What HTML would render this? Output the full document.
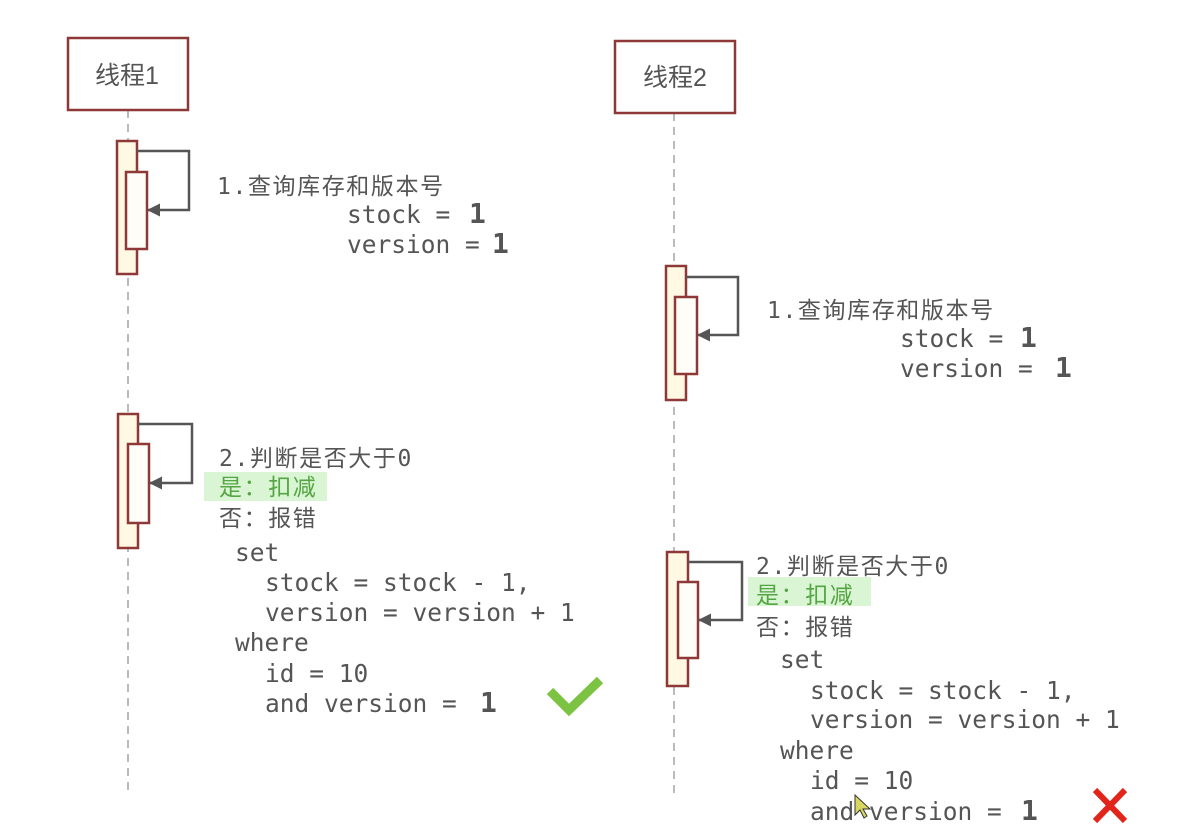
<!DOCTYPE html>
<html><head><meta charset="utf-8"><style>
html,body{margin:0;padding:0;background:#fff;}
svg{display:block;}
.t{font-family:"DejaVu Sans Mono","Liberation Mono","Noto Sans CJK SC",monospace;font-size:24.5px;fill:#555;}
.c{font-family:"DejaVu Sans Mono","Liberation Mono","Noto Sans CJK SC",monospace;font-size:23px;letter-spacing:1.6px;fill:#555;}
.g{fill:#55a544;}
.b{font-family:"DejaVu Sans Mono","Liberation Mono",monospace;font-size:28px;font-weight:bold;fill:#555;}
.h{font-family:"Liberation Sans","Noto Sans CJK SC",sans-serif;font-size:25px;fill:#555;}
</style></head><body>
<svg width="1179" height="828" viewBox="0 0 1179 828" xmlns="http://www.w3.org/2000/svg">
<defs>
<marker id="ah" markerWidth="13" markerHeight="13" refX="12" refY="6.5" orient="auto" markerUnits="userSpaceOnUse">
<path d="M0,0 L13,6.5 L0,13 z" fill="#555"/>
</marker>
</defs>

<!-- lifelines -->
<line x1="128" y1="110" x2="128" y2="795" stroke="#bbb" stroke-width="2" stroke-dasharray="8 6"/>
<line x1="674" y1="113" x2="674" y2="795" stroke="#bbb" stroke-width="2" stroke-dasharray="8 6"/>

<!-- headers -->
<rect x="68" y="38" width="120" height="72" fill="#fff" stroke="#8e3838" stroke-width="2.5"/>
<text class="h" x="127" y="84" text-anchor="middle">线程1</text>
<rect x="615" y="41" width="120" height="72" fill="#fff" stroke="#8e3838" stroke-width="2.5"/>
<text class="h" x="675" y="86" text-anchor="middle">线程2</text>

<!-- left activation 1 -->
<rect x="117" y="141" width="20" height="133" fill="#fff8e2" stroke="#8e3838" stroke-width="2.5"/>
<rect x="126" y="172" width="21" height="77" fill="#fffdf7" stroke="#8e3838" stroke-width="2.5"/>
<polyline points="137,151 189,151 189,210 148,210" fill="none" stroke="#555" stroke-width="2.5" marker-end="url(#ah)"/>

<!-- left activation 2 -->
<rect x="118" y="414" width="20" height="134" fill="#fff8e2" stroke="#8e3838" stroke-width="2.5"/>
<rect x="128" y="444" width="21" height="79" fill="#fffdf7" stroke="#8e3838" stroke-width="2.5"/>
<polyline points="138,424 192,424 192,483 150,483" fill="none" stroke="#555" stroke-width="2.5" marker-end="url(#ah)"/>

<!-- right activation 1 -->
<rect x="666" y="266" width="20" height="134" fill="#fff8e2" stroke="#8e3838" stroke-width="2.5"/>
<rect x="675" y="297" width="22" height="77" fill="#fffdf7" stroke="#8e3838" stroke-width="2.5"/>
<polyline points="686,277 738,277 738,335 698,335" fill="none" stroke="#555" stroke-width="2.5" marker-end="url(#ah)"/>

<!-- right activation 2 -->
<rect x="667" y="552" width="21" height="134" fill="#fff8e2" stroke="#8e3838" stroke-width="2.5"/>
<rect x="678" y="582" width="20" height="76" fill="#fffdf7" stroke="#8e3838" stroke-width="2.5"/>
<polyline points="688,562 742,562 742,620 699,620" fill="none" stroke="#555" stroke-width="2.5" marker-end="url(#ah)"/>

<!-- highlights -->
<rect x="204" y="472" width="123" height="29" fill="#d9f5d3"/>
<rect x="748" y="577" width="123" height="29" fill="#d9f5d3"/>

<!-- left texts -->
<text class="c" x="217" y="194">1.查询库存和版本号</text>
<text class="t" x="347" y="223">stock = </text><text class="b" x="469" y="223">1</text>
<text class="t" x="347" y="253">version = </text><text class="b" x="492" y="253">1</text>

<text class="c" x="219" y="466">2.判断是否大于0</text>
<text class="c g" x="219" y="495">是：扣减</text>
<text class="c" x="219" y="526">否：报错</text>
<text class="t" x="235" y="561">set</text>
<text class="t" x="265" y="591">stock = stock - 1,</text>
<text class="t" x="265" y="621">version = version + 1</text>
<text class="t" x="235" y="651">where</text>
<text class="t" x="265" y="682">id = 10</text>
<text class="t" x="265" y="712">and version = </text><text class="b" x="480" y="712">1</text>

<!-- right texts -->
<text class="c" x="767" y="318">1.查询库存和版本号</text>
<text class="t" x="900" y="347">stock = </text><text class="b" x="1020" y="347">1</text>
<text class="t" x="900" y="377">version = </text><text class="b" x="1055" y="377">1</text>

<text class="c" x="756" y="574">2.判断是否大于0</text>
<text class="c g" x="756" y="603">是：扣减</text>
<text class="c" x="756" y="635">否：报错</text>
<text class="t" x="780" y="668">set</text>
<text class="t" x="810" y="699">stock = stock - 1,</text>
<text class="t" x="810" y="728">version = version + 1</text>
<text class="t" x="780" y="759">where</text>
<text class="t" x="810" y="789">id = 10</text>
<text class="t" x="810" y="820">and version = </text><text class="b" x="1021" y="820">1</text>

<!-- check mark -->
<polyline points="550,691 569,710 600,680" fill="none" stroke="#7cc243" stroke-width="9" stroke-linejoin="miter"/>

<!-- red X -->
<line x1="1095" y1="790" x2="1125" y2="821" stroke="#e1251b" stroke-width="6"/>
<line x1="1125" y1="790" x2="1095" y2="821" stroke="#e1251b" stroke-width="6"/>

<!-- cursor -->
<path d="M855,795 L855,815 L860,810 L864,818 L867,816 L863,809 L870,809 z" fill="#d8d860" stroke="#333" stroke-width="1"/>
</svg>
</body></html>
